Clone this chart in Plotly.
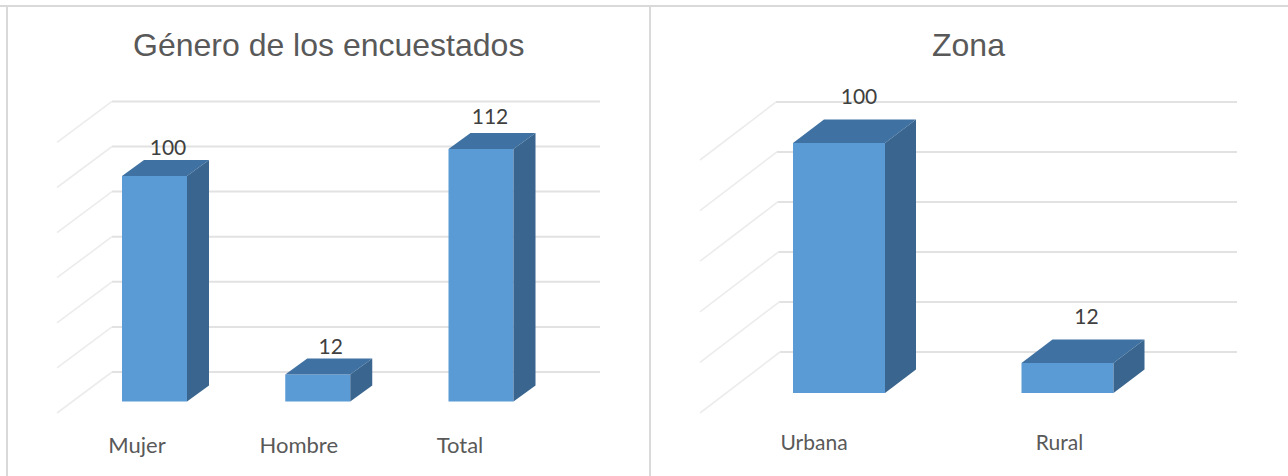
import plotly.graph_objects as go

# ---- data ----
title_left = "Género de los encuestados"
cats_left = ["Mujer", "Hombre", "Total"]
vals_left = [100, 12, 112]
grid_left = [0, 20, 40, 60, 80, 100, 120]

title_right = "Zona"
cats_right = ["Urbana", "Rural"]
vals_right = [100, 12]
grid_right = [0, 20, 40, 60, 80, 100]

W, H = 1288, 476
FRONT, TOP, SIDE = "#5b9bd5", "#3f72a3", "#39658f"
GRID, DIAG = "#e2e2e2", "#ececec"
TXT, LBL, TTL = "#404040", "#595959", "#595959"
FONT = "Lato"


def panel(fig, idx, title, cats, vals, grid, cfg):
    xa = "x" if idx == 1 else f"x{idx}"
    ya = "y" if idx == 1 else f"y{idx}"
    sx, sy = cfg["spacing"], cfg["scale"]
    px = lambda d: (d - cfg["c0"]) / sx       # pixel column -> category units
    pos = list(range(len(cats)))
    bw = cfg["bw"] / sx
    dx, dy = cfg["dx"] / sx, cfg["dy"] / sy
    wall = cfg["wall"] / sy

    layout_x = dict(
        domain=[cfg["left"] / W, cfg["right"] / W],
        range=[px(cfg["left"]), px(cfg["right"])],
        tickmode="array",
        tickvals=[p + o / sx for p, o in zip(pos, cfg["tick_off"])],
        ticktext=cats,
        tickfont=dict(family=FONT, size=cfg["tick_size"], color=LBL),
        showgrid=False, zeroline=False, showline=False, ticks="outside",
        ticklen=cfg["ticklen"], tickcolor="rgba(0,0,0,0)", fixedrange=True,
        anchor=ya,
    )
    layout_y = dict(
        domain=[1 - cfg["bot"] / H, 1 - cfg["top"] / H],
        range=[(cfg["floor"] - cfg["bot"]) / sy, (cfg["floor"] - cfg["top"]) / sy],
        showticklabels=False, showgrid=False, zeroline=False, showline=False,
        fixedrange=True, anchor=xa,
    )
    fig.update_layout({("xaxis" if idx == 1 else f"xaxis{idx}"): layout_x,
                       ("yaxis" if idx == 1 else f"yaxis{idx}"): layout_y})

    # back wall and side wall gridlines
    gmax = max(grid)
    for g in grid:
        y = g + wall
        t = g / gmax
        bx = cfg["diag_b0"] + (cfg["diag_b1"] - cfg["diag_b0"]) * t
        fx = cfg["diag_f0"] + (cfg["diag_f1"] - cfg["diag_f0"]) * t
        drop = cfg["drop0"] + (cfg["drop1"] - cfg["drop0"]) * t
        fig.add_shape(type="line", xref=xa, yref=ya, layer="below",
                      x0=px(bx), x1=px(cfg["grid_end"]), y0=y, y1=y,
                      line=dict(color=GRID, width=2))
        fig.add_shape(type="line", xref=xa, yref=ya, layer="below",
                      x0=px(bx), x1=px(fx), y0=y, y1=y - drop / sy,
                      line=dict(color=DIAG, width=1.6))

    # front faces
    fig.add_trace(go.Bar(x=pos, y=vals, width=bw, marker=dict(color=FRONT, line_width=0),
                         hoverinfo="x+y", xaxis=xa, yaxis=ya, showlegend=False))
    # top and side faces
    for p, v in zip(pos, vals):
        l, r = p - bw / 2, p + bw / 2
        fig.add_trace(go.Scatter(x=[l, r, r + dx, l + dx, l], y=[v, v, v + dy, v + dy, v],
                                 fill="toself", fillcolor=TOP, mode="lines", line_width=0,
                                 hoverinfo="skip", xaxis=xa, yaxis=ya, showlegend=False))
        fig.add_trace(go.Scatter(x=[r, r + dx, r + dx, r, r], y=[0, dy, v + dy, v, 0],
                                 fill="toself", fillcolor=SIDE, mode="lines", line_width=0,
                                 hoverinfo="skip", xaxis=xa, yaxis=ya, showlegend=False))
    # value labels
    fig.add_trace(go.Scatter(
        x=[p + o / sx for p, o in zip(pos, cfg["lab_dx"])],
        y=[v + o / sy for v, o in zip(vals, cfg["lab_dy"])],
        text=[str(v) for v in vals], mode="text", textposition="middle center",
        textfont=dict(family=FONT, size=cfg["val_size"], color=TXT),
        hoverinfo="skip", xaxis=xa, yaxis=ya, showlegend=False))
    # chart title
    fig.add_annotation(text=title, xref="paper", yref="paper", x=cfg["title_x"] / W,
                       y=1 - cfg["title_y"] / H, xanchor="center", yanchor="middle",
                       showarrow=False,
                       font=dict(family="Liberation Sans", size=cfg["title_size"], color=TTL))


fig = go.Figure()
panel(fig, 1, title_left, cats_left, vals_left, grid_left, dict(
    left=9, right=648, top=60, bot=424, c0=154.5, spacing=163.25, scale=2.255, floor=401.5,
    bw=65, dx=22, dy=16, wall=29.5, grid_end=600,
    diag_b0=112, diag_b1=112, diag_f0=57, diag_f1=57, drop0=41, drop1=41,
    tick_off=[-17.5, -19, -21], lab_dx=[13.5, 13, 9], lab_dy=[26, 26, 30],
    tick_size=22, val_size=21, ticklen=2, title_x=328, title_y=45, title_size=32))
panel(fig, 2, title_right, cats_right, vals_right, grid_right, dict(
    left=652, right=1286, top=60, bot=423, c0=839, spacing=228.5, scale=2.5, floor=393,
    bw=92, dx=31, dy=23.5, wall=41, grid_end=1237,
    diag_b0=780, diag_b1=776, diag_f0=700, diag_f1=700, drop0=61, drop1=58,
    tick_off=[-25, -8], lab_dx=[20, 19], lab_dy=[44, 44],
    tick_size=21, val_size=21, ticklen=1, title_x=968, title_y=45, title_size=32))

# panel frame
for x0, y0, x1, y1 in [(0, 6, W, 6), (7, 6, 7, H), (650, 6, 650, H)]:
    fig.add_shape(type="line", xref="paper", yref="paper", layer="below",
                  x0=x0 / W, x1=x1 / W, y0=1 - y0 / H, y1=1 - y1 / H,
                  line=dict(color="#d9d9d9", width=2))

fig.update_layout(width=W, height=H, margin=dict(l=0, r=0, t=0, b=0),
                  paper_bgcolor="white", plot_bgcolor="rgba(0,0,0,0)",
                  showlegend=False, barmode="overlay")
fig.write_html("out.html", config={"displayModeBar": False},
               post_script="document.body.style.margin='0';")
